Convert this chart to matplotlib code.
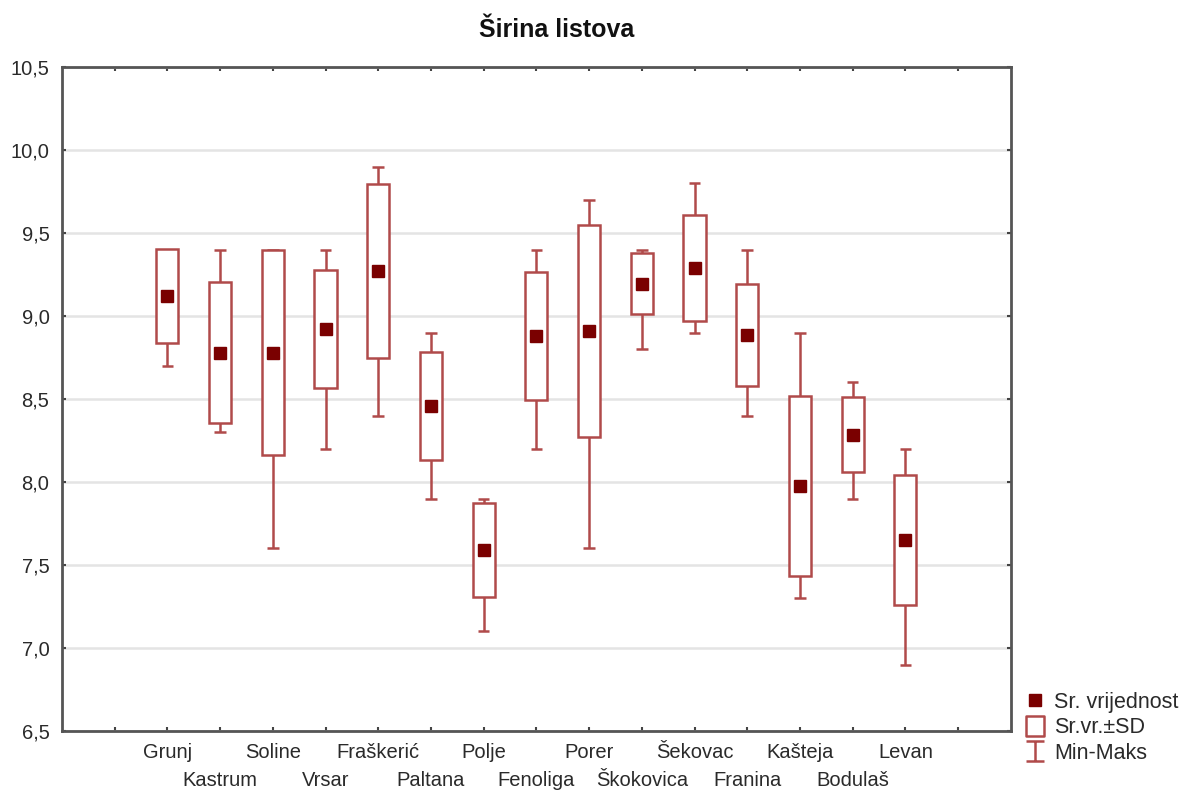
import matplotlib
matplotlib.use("Agg")
import matplotlib.pyplot as plt
import numpy as np
from matplotlib.lines import Line2D
from matplotlib.path import Path

plt.rcParams["font.family"] = ["Liberation Sans", "DejaVu Sans"]

sites = ["Grunj", "Kastrum", "Soline", "Vrsar", "Fraškerić", "Paltana", "Polje",
         "Fenoliga", "Porer", "Škokovica", "Šekovac", "Franina", "Kašteja",
         "Bodulaš", "Levan"]
means = [9.12, 8.78, 8.78, 8.92, 9.27, 8.46, 7.59, 8.88, 8.91, 9.195, 9.29,
         8.885, 7.975, 8.285, 7.65]
sds = [0.285, 0.425, 0.615, 0.355, 0.525, 0.325, 0.285, 0.385, 0.64, 0.183,
       0.32, 0.305, 0.54, 0.225, 0.39]
mins = [8.7, 8.3, 7.6, 8.2, 8.4, 7.9, 7.1, 8.2, 7.6, 8.8, 8.9, 8.4, 7.3, 7.9, 6.9]
maxs = [9.4, 9.4, 9.4, 9.4, 9.9, 8.9, 7.9, 9.4, 9.7, 9.4, 9.8, 9.4, 8.9, 8.6, 8.2]
yticks = [6.5, 7.0, 7.5, 8.0, 8.5, 9.0, 9.5, 10.0, 10.5]

box_col = "#b04a4a"
mean_col = "#7a0000"
text_col = "#2a2a2a"

means = np.array(means)
sds = np.array(sds)
x = np.arange(1, len(sites) + 1)

fig = plt.figure(figsize=(11.92, 7.90), dpi=100)
ax = fig.add_axes([0.052, 0.0747, 0.796, 0.8405])

ax.vlines(x, mins, maxs, color=box_col, lw=1.8, zorder=2)
ax.hlines(mins, x - 0.11, x + 0.11, color=box_col, lw=1.8, zorder=2)
ax.hlines(maxs, x - 0.11, x + 0.11, color=box_col, lw=1.8, zorder=2)
ax.bar(x, 2 * sds, bottom=means - sds, width=0.42, color="white",
       edgecolor=box_col, linewidth=1.8, zorder=3)
ax.plot(x, means, ls="none", marker="s", ms=8, color=mean_col, zorder=4)

ax.set_xlim(-1, 17)
ax.set_ylim(6.5, 10.5)
ax.set_yticks(yticks)
ax.set_yticklabels([f"{v:.1f}".replace(".", ",") for v in yticks])

# first row of names on the main axis, tick marks at every slot 0..16
ax.set_xticks(np.arange(0, 17))
row1 = [""] + [s if i % 2 == 0 else "" for i, s in enumerate(sites)] + [""]
ax.set_xticklabels(row1)

# second row of names on a secondary axis, pushed further down
sec = ax.secondary_xaxis("bottom")
sec.set_xticks(x[1::2])
sec.set_xticklabels(sites[1::2])
sec.tick_params(length=0, labelsize=14.5, labelcolor=text_col, pad=29)
sec.spines["bottom"].set_visible(False)

ax.grid(True, axis="y", color="#e4e4e4", lw=1.8, zorder=0)
ax.set_axisbelow(True)
ax.tick_params(direction="in", length=3, width=1.5, color="#444444",
               top=True, right=True, labelsize=14.5, labelcolor=text_col, pad=9)
for sp in ax.spines.values():
    sp.set_color("#555555")
    sp.set_linewidth(2)

fig.text(0.467, 0.962, "Širina listova", ha="center", va="center",
         fontsize=18, fontweight="bold", color="#111111")

box_path = Path([(-0.85, -1), (0.85, -1), (0.85, 1), (-0.85, 1), (-0.85, -1)],
                [Path.MOVETO, Path.LINETO, Path.LINETO, Path.LINETO, Path.CLOSEPOLY])
ibeam = Path([(-0.85, -1), (0.85, -1), (0, -1), (0, 1), (-0.85, 1), (0.85, 1)],
             [Path.MOVETO, Path.LINETO, Path.MOVETO, Path.LINETO, Path.MOVETO, Path.LINETO])
handles = [
    Line2D([], [], ls="none", marker="s", ms=8, color=mean_col),
    Line2D([], [], ls="none", marker=box_path, ms=15, mfc="white",
           mec=box_col, mew=1.8),
    Line2D([], [], ls="none", marker=ibeam, ms=15, mfc="none",
           mec=box_col, mew=1.8),
]
fig.legend(handles, ["Sr. vrijednost", "Sr.vr.±SD", "Min-Maks"],
           loc="upper left", bbox_to_anchor=(0.852, 0.135), frameon=False,
           fontsize=15.5, labelcolor=text_col, handlelength=1.0,
           handletextpad=0.4, labelspacing=0.2, borderaxespad=0)

fig.savefig("out.png", dpi=100)
